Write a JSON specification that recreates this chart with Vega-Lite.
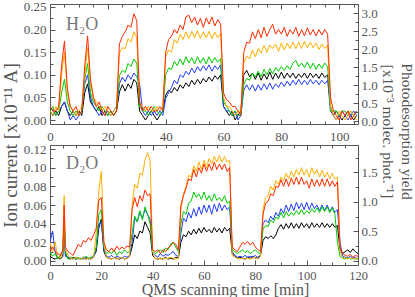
{
"$schema": "https://vega.github.io/schema/vega-lite/v6.json",
"background": "white",
"padding": {"left": 0, "top": 0, "right": 0, "bottom": 0},
"spacing": 21,
"bounds": "flush",
"config": {
  "view": {"stroke": "#555", "strokeWidth": 1},
  "font": "Liberation Serif",
  "axis": {"grid": false, "domain": false, "tickColor": "#555", "labelColor": "#555", "titleColor": "#555", "labelFont": "Liberation Serif", "titleFont": "Liberation Serif", "labelFontSize": 13, "titleFontSize": 16, "titleFontWeight": "normal", "tickWidth": 1}
},
"datasets": {
  "one": [{"a": 0}],
  "h2o": [
{"t":0,"k":0.02,"b":0.03,"g":0.02,"o":0.02,"r":0.03},
{"t":1,"k":0.01,"b":0.02,"g":0.03,"o":0.01,"r":0.02},
{"t":2,"k":0.02,"b":0.01,"g":0.01,"o":0.03,"r":0.02},
{"t":3,"k":0.01,"b":0.02,"g":0.02,"o":0.02,"r":0.03},
{"t":4,"k":0.03,"b":0.03,"g":0.06,"o":0.1,"r":0.12},
{"t":5,"k":0.04,"b":0.04,"g":0.09,"o":0.15,"r":0.175},
{"t":6,"k":0.02,"b":0.02,"g":0.04,"o":0.06,"r":0.07},
{"t":7,"k":0.01,"b":0.0,"g":0.02,"o":0.03,"r":0.03},
{"t":8,"k":0.02,"b":0.01,"g":0.01,"o":0.02,"r":0.02},
{"t":9,"k":0.01,"b":0.0,"g":0.02,"o":0.01,"r":0.03},
{"t":10,"k":0.02,"b":0.01,"g":0.01,"o":0.02,"r":0.01},
{"t":11,"k":0.01,"b":0.02,"g":0.02,"o":0.03,"r":0.02},
{"t":12,"k":0.06,"b":0.08,"g":0.09,"o":0.1,"r":0.12},
{"t":13,"k":0.08,"b":0.1,"g":0.125,"o":0.16,"r":0.186},
{"t":14,"k":0.04,"b":0.05,"g":0.06,"o":0.08,"r":0.09},
{"t":15,"k":0.03,"b":0.03,"g":0.04,"o":0.05,"r":0.05},
{"t":16,"k":0.02,"b":0.02,"g":0.03,"o":0.04,"r":0.03},
{"t":17,"k":0.03,"b":0.01,"g":0.02,"o":0.03,"r":0.04},
{"t":18,"k":0.01,"b":0.02,"g":0.03,"o":0.02,"r":0.02},
{"t":19,"k":0.02,"b":0.01,"g":0.02,"o":0.03,"r":0.01},
{"t":20,"k":0.01,"b":0.02,"g":0.01,"o":0.02,"r":0.03},
{"t":21,"k":0.02,"b":0.01,"g":0.02,"o":0.01,"r":0.02},
{"t":22,"k":0.01,"b":0.02,"g":0.01,"o":0.02,"r":0.01},
{"t":23,"k":0.02,"b":0.03,"g":0.02,"o":0.03,"r":0.02},
{"t":24,"k":0.062,"b":0.08,"g":0.098,"o":0.148,"r":0.168},
{"t":25,"k":0.078,"b":0.095,"g":0.11,"o":0.16,"r":0.185},
{"t":26,"k":0.064,"b":0.085,"g":0.105,"o":0.158,"r":0.195},
{"t":27,"k":0.08,"b":0.1,"g":0.125,"o":0.18,"r":0.21},
{"t":28,"k":0.07,"b":0.09,"g":0.118,"o":0.172,"r":0.205},
{"t":29,"k":0.09,"b":0.104,"g":0.135,"o":0.195,"r":0.235},
{"t":30,"k":0.082,"b":0.096,"g":0.126,"o":0.182,"r":0.22},
{"t":31,"k":0.02,"b":0.08,"g":0.03,"o":0.04,"r":0.04},
{"t":32,"k":0.01,"b":0.02,"g":0.02,"o":0.03,"r":0.02},
{"t":33,"k":0.0,"b":0.01,"g":0.02,"o":0.02,"r":0.03},
{"t":34,"k":0.01,"b":0.02,"g":0.01,"o":0.03,"r":0.02},
{"t":35,"k":0.02,"b":0.01,"g":0.02,"o":0.02,"r":0.03},
{"t":36,"k":0.01,"b":0.02,"g":0.03,"o":0.02,"r":0.02},
{"t":37,"k":0.0,"b":0.01,"g":0.02,"o":0.03,"r":0.02},
{"t":38,"k":0.01,"b":0.02,"g":0.01,"o":0.02,"r":0.03},
{"t":39,"k":0.02,"b":0.01,"g":0.02,"o":0.03,"r":0.02},
{"t":40,"k":0.055,"b":0.048,"g":0.1,"o":0.14,"r":0.15},
{"t":41,"k":0.066,"b":0.06,"g":0.115,"o":0.155,"r":0.178},
{"t":42,"k":0.06,"b":0.072,"g":0.112,"o":0.15,"r":0.185},
{"t":43,"k":0.072,"b":0.088,"g":0.13,"o":0.178,"r":0.2},
{"t":44,"k":0.064,"b":0.08,"g":0.12,"o":0.17,"r":0.192},
{"t":45,"k":0.078,"b":0.1,"g":0.135,"o":0.19,"r":0.21},
{"t":46,"k":0.07,"b":0.094,"g":0.122,"o":0.178,"r":0.2},
{"t":47,"k":0.082,"b":0.108,"g":0.14,"o":0.195,"r":0.228},
{"t":48,"k":0.074,"b":0.1,"g":0.126,"o":0.18,"r":0.232},
{"t":49,"k":0.088,"b":0.115,"g":0.138,"o":0.196,"r":0.215},
{"t":50,"k":0.078,"b":0.104,"g":0.124,"o":0.182,"r":0.228},
{"t":51,"k":0.09,"b":0.118,"g":0.14,"o":0.198,"r":0.21},
{"t":52,"k":0.08,"b":0.108,"g":0.126,"o":0.18,"r":0.225},
{"t":53,"k":0.092,"b":0.12,"g":0.138,"o":0.195,"r":0.205},
{"t":54,"k":0.084,"b":0.11,"g":0.124,"o":0.182,"r":0.226},
{"t":55,"k":0.095,"b":0.122,"g":0.14,"o":0.196,"r":0.212},
{"t":56,"k":0.086,"b":0.108,"g":0.126,"o":0.18,"r":0.228},
{"t":57,"k":0.098,"b":0.12,"g":0.138,"o":0.194,"r":0.208},
{"t":58,"k":0.09,"b":0.112,"g":0.128,"o":0.182,"r":0.222},
{"t":59,"k":0.1,"b":0.122,"g":0.136,"o":0.192,"r":0.212},
{"t":60,"k":0.03,"b":0.03,"g":0.04,"o":0.05,"r":0.06},
{"t":61,"k":0.02,"b":0.02,"g":0.03,"o":0.03,"r":0.045},
{"t":62,"k":0.01,"b":0.02,"g":0.02,"o":0.03,"r":0.04},
{"t":63,"k":0.02,"b":0.01,"g":0.01,"o":0.02,"r":0.03},
{"t":64,"k":0.0,"b":0.02,"g":0.02,"o":0.01,"r":0.03},
{"t":65,"k":0.01,"b":0.0,"g":0.01,"o":0.02,"r":0.02},
{"t":66,"k":0.02,"b":0.01,"g":0.01,"o":0.02,"r":0.01},
{"t":67,"k":0.1,"b":0.066,"g":0.078,"o":0.125,"r":0.15},
{"t":68,"k":0.11,"b":0.078,"g":0.092,"o":0.142,"r":0.172},
{"t":69,"k":0.096,"b":0.066,"g":0.088,"o":0.135,"r":0.17},
{"t":70,"k":0.104,"b":0.078,"g":0.104,"o":0.155,"r":0.195},
{"t":71,"k":0.09,"b":0.064,"g":0.095,"o":0.14,"r":0.18},
{"t":72,"k":0.104,"b":0.078,"g":0.108,"o":0.158,"r":0.2},
{"t":73,"k":0.088,"b":0.066,"g":0.096,"o":0.148,"r":0.182},
{"t":74,"k":0.102,"b":0.08,"g":0.112,"o":0.165,"r":0.205},
{"t":75,"k":0.09,"b":0.068,"g":0.1,"o":0.15,"r":0.185},
{"t":76,"k":0.106,"b":0.082,"g":0.114,"o":0.166,"r":0.2},
{"t":77,"k":0.09,"b":0.068,"g":0.102,"o":0.158,"r":0.212},
{"t":78,"k":0.104,"b":0.08,"g":0.116,"o":0.168,"r":0.19},
{"t":79,"k":0.092,"b":0.072,"g":0.108,"o":0.152,"r":0.2},
{"t":80,"k":0.106,"b":0.084,"g":0.118,"o":0.17,"r":0.19},
{"t":81,"k":0.092,"b":0.074,"g":0.11,"o":0.155,"r":0.205},
{"t":82,"k":0.104,"b":0.086,"g":0.12,"o":0.17,"r":0.185},
{"t":83,"k":0.094,"b":0.076,"g":0.112,"o":0.158,"r":0.2},
{"t":84,"k":0.104,"b":0.088,"g":0.126,"o":0.172,"r":0.19},
{"t":85,"k":0.092,"b":0.078,"g":0.132,"o":0.158,"r":0.205},
{"t":86,"k":0.102,"b":0.09,"g":0.118,"o":0.172,"r":0.185},
{"t":87,"k":0.094,"b":0.078,"g":0.126,"o":0.158,"r":0.2},
{"t":88,"k":0.104,"b":0.088,"g":0.116,"o":0.174,"r":0.186},
{"t":89,"k":0.092,"b":0.078,"g":0.128,"o":0.16,"r":0.204},
{"t":90,"k":0.104,"b":0.09,"g":0.114,"o":0.172,"r":0.188},
{"t":91,"k":0.094,"b":0.08,"g":0.126,"o":0.16,"r":0.2},
{"t":92,"k":0.102,"b":0.088,"g":0.112,"o":0.17,"r":0.186},
{"t":93,"k":0.092,"b":0.078,"g":0.124,"o":0.156,"r":0.2},
{"t":94,"k":0.104,"b":0.088,"g":0.114,"o":0.168,"r":0.188},
{"t":95,"k":0.094,"b":0.08,"g":0.126,"o":0.158,"r":0.2},
{"t":96,"k":0.1,"b":0.088,"g":0.118,"o":0.166,"r":0.19},
{"t":97,"k":0.03,"b":0.02,"g":0.02,"o":0.03,"r":0.05},
{"t":98,"k":0.01,"b":0.01,"g":0.02,"o":0.01,"r":0.02},
{"t":99,"k":0.02,"b":0.0,"g":0.02,"o":0.0,"r":0.01},
{"t":100,"k":0.01,"b":0.01,"g":0.01,"o":0.02,"r":0.0},
{"t":101,"k":0.0,"b":0.02,"g":0.02,"o":0.01,"r":0.02},
{"t":102,"k":0.01,"b":0.01,"g":0.02,"o":0.0,"r":0.01},
{"t":103,"k":0.02,"b":0.0,"g":0.01,"o":0.01,"r":0.02},
{"t":104,"k":0.01,"b":0.01,"g":0.02,"o":0.02,"r":0.0},
{"t":105,"k":0.0,"b":0.02,"g":0.01,"o":0.01,"r":0.01},
{"t":106,"k":0.01,"b":0.01,"g":0.02,"o":0.0,"r":0.02}
  ],
  "d2o": [
{"t":0,"k":0.005,"b":0.02,"g":0.01,"o":0.02,"r":0.01},
{"t":1,"k":0.003,"b":0.032,"g":0.005,"o":0.01,"r":0.015},
{"t":2,"k":0.002,"b":0.01,"g":0.008,"o":0.02,"r":0.01},
{"t":3,"k":0.004,"b":0.003,"g":0.002,"o":0.005,"r":0.008},
{"t":4,"k":0.002,"b":0.005,"g":0.006,"o":0.003,"r":0.006},
{"t":5,"k":0.005,"b":0.008,"g":0.01,"o":0.01,"r":0.012},
{"t":5.5,"k":0.048,"b":0.03,"g":0.045,"o":0.07,"r":0.06},
{"t":6,"k":0.008,"b":0.005,"g":0.01,"o":0.012,"r":0.015},
{"t":7,"k":0.003,"b":0.004,"g":0.002,"o":0.006,"r":0.01},
{"t":8,"k":0.002,"b":0.003,"g":0.004,"o":0.003,"r":0.008},
{"t":9,"k":0.004,"b":0.002,"g":0.003,"o":0.002,"r":0.006},
{"t":10,"k":0.002,"b":0.004,"g":0.002,"o":0.004,"r":0.012},
{"t":11,"k":0.003,"b":0.002,"g":0.004,"o":0.003,"r":0.018},
{"t":12,"k":0.002,"b":0.003,"g":0.002,"o":0.002,"r":0.015},
{"t":13,"k":0.004,"b":0.002,"g":0.003,"o":0.004,"r":0.022},
{"t":14,"k":0.002,"b":0.004,"g":0.005,"o":0.002,"r":0.02},
{"t":15,"k":0.003,"b":0.002,"g":0.003,"o":0.003,"r":0.025},
{"t":16,"k":0.002,"b":0.003,"g":0.004,"o":0.002,"r":0.022},
{"t":17,"k":0.005,"b":0.004,"g":0.006,"o":0.004,"r":0.028},
{"t":18,"k":0.01,"b":0.012,"g":0.015,"o":0.03,"r":0.035},
{"t":19,"k":0.035,"b":0.04,"g":0.05,"o":0.075,"r":0.065},
{"t":20,"k":0.045,"b":0.042,"g":0.055,"o":0.096,"r":0.068},
{"t":21,"k":0.01,"b":0.012,"g":0.015,"o":0.02,"r":0.02},
{"t":22,"k":0.004,"b":0.005,"g":0.008,"o":0.004,"r":0.012},
{"t":23,"k":0.003,"b":0.004,"g":0.01,"o":0.003,"r":0.01},
{"t":24,"k":0.002,"b":0.006,"g":0.008,"o":0.002,"r":0.014},
{"t":25,"k":0.004,"b":0.003,"g":0.012,"o":0.004,"r":0.01},
{"t":26,"k":0.003,"b":0.005,"g":0.006,"o":0.002,"r":0.016},
{"t":27,"k":0.002,"b":0.004,"g":0.01,"o":0.003,"r":0.012},
{"t":28,"k":0.004,"b":0.003,"g":0.008,"o":0.004,"r":0.015},
{"t":29,"k":0.002,"b":0.005,"g":0.012,"o":0.002,"r":0.013},
{"t":30,"k":0.003,"b":0.004,"g":0.009,"o":0.003,"r":0.016},
{"t":31,"k":0.005,"b":0.006,"g":0.01,"o":0.005,"r":0.015},
{"t":32,"k":0.015,"b":0.02,"g":0.03,"o":0.06,"r":0.055},
{"t":33,"k":0.028,"b":0.046,"g":0.048,"o":0.082,"r":0.068},
{"t":34,"k":0.024,"b":0.042,"g":0.042,"o":0.078,"r":0.058},
{"t":35,"k":0.032,"b":0.052,"g":0.054,"o":0.094,"r":0.07},
{"t":36,"k":0.03,"b":0.046,"g":0.044,"o":0.092,"r":0.064},
{"t":37,"k":0.042,"b":0.055,"g":0.058,"o":0.108,"r":0.076},
{"t":38,"k":0.036,"b":0.05,"g":0.05,"o":0.116,"r":0.07},
{"t":39,"k":0.03,"b":0.045,"g":0.04,"o":0.108,"r":0.072},
{"t":40,"k":0.006,"b":0.008,"g":0.01,"o":0.01,"r":0.012},
{"t":41,"k":0.003,"b":0.006,"g":0.008,"o":0.002,"r":0.01},
{"t":42,"k":0.002,"b":0.004,"g":0.01,"o":0.003,"r":0.012},
{"t":43,"k":0.003,"b":0.008,"g":0.012,"o":0.002,"r":0.008},
{"t":44,"k":0.002,"b":0.005,"g":0.009,"o":0.003,"r":0.012},
{"t":45,"k":0.004,"b":0.007,"g":0.014,"o":0.002,"r":0.01},
{"t":46,"k":0.002,"b":0.006,"g":0.012,"o":0.003,"r":0.014},
{"t":47,"k":0.003,"b":0.008,"g":0.018,"o":0.004,"r":0.016},
{"t":48,"k":0.002,"b":0.01,"g":0.02,"o":0.003,"r":0.02},
{"t":49,"k":0.004,"b":0.006,"g":0.015,"o":0.002,"r":0.018},
{"t":50,"k":0.003,"b":0.005,"g":0.01,"o":0.003,"r":0.012},
{"t":51,"k":0.02,"b":0.03,"g":0.04,"o":0.055,"r":0.06},
{"t":52,"k":0.028,"b":0.046,"g":0.053,"o":0.072,"r":0.07},
{"t":53,"k":0.026,"b":0.042,"g":0.05,"o":0.08,"r":0.078},
{"t":54,"k":0.032,"b":0.052,"g":0.062,"o":0.092,"r":0.088},
{"t":55,"k":0.028,"b":0.046,"g":0.064,"o":0.09,"r":0.086},
{"t":56,"k":0.034,"b":0.056,"g":0.074,"o":0.102,"r":0.098},
{"t":57,"k":0.029,"b":0.048,"g":0.068,"o":0.096,"r":0.09},
{"t":58,"k":0.035,"b":0.058,"g":0.072,"o":0.106,"r":0.1},
{"t":59,"k":0.03,"b":0.05,"g":0.066,"o":0.098,"r":0.094},
{"t":60,"k":0.036,"b":0.06,"g":0.074,"o":0.108,"r":0.104},
{"t":61,"k":0.031,"b":0.052,"g":0.065,"o":0.1,"r":0.096},
{"t":62,"k":0.034,"b":0.06,"g":0.07,"o":0.11,"r":0.104},
{"t":63,"k":0.03,"b":0.05,"g":0.064,"o":0.104,"r":0.097},
{"t":64,"k":0.036,"b":0.061,"g":0.072,"o":0.112,"r":0.106},
{"t":65,"k":0.031,"b":0.053,"g":0.065,"o":0.106,"r":0.098},
{"t":66,"k":0.035,"b":0.062,"g":0.068,"o":0.113,"r":0.104},
{"t":67,"k":0.03,"b":0.054,"g":0.064,"o":0.106,"r":0.098},
{"t":68,"k":0.036,"b":0.06,"g":0.07,"o":0.112,"r":0.104},
{"t":69,"k":0.032,"b":0.055,"g":0.062,"o":0.106,"r":0.096},
{"t":70,"k":0.035,"b":0.058,"g":0.064,"o":0.108,"r":0.1},
{"t":71,"k":0.008,"b":0.01,"g":0.012,"o":0.006,"r":0.015},
{"t":72,"k":0.005,"b":0.006,"g":0.01,"o":0.004,"r":0.012},
{"t":73,"k":0.003,"b":0.004,"g":0.008,"o":0.003,"r":0.01},
{"t":74,"k":0.004,"b":0.005,"g":0.01,"o":0.002,"r":0.015},
{"t":75,"k":0.003,"b":0.004,"g":0.012,"o":0.003,"r":0.02},
{"t":76,"k":0.002,"b":0.006,"g":0.009,"o":0.002,"r":0.018},
{"t":77,"k":0.004,"b":0.004,"g":0.011,"o":0.003,"r":0.021},
{"t":78,"k":0.003,"b":0.005,"g":0.008,"o":0.002,"r":0.017},
{"t":79,"k":0.005,"b":0.004,"g":0.01,"o":0.003,"r":0.02},
{"t":80,"k":0.003,"b":0.006,"g":0.012,"o":0.004,"r":0.015},
{"t":81,"k":0.004,"b":0.003,"g":0.009,"o":0.002,"r":0.012},
{"t":82,"k":0.006,"b":0.005,"g":0.008,"o":0.005,"r":0.01},
{"t":83,"k":0.022,"b":0.04,"g":0.034,"o":0.055,"r":0.05},
{"t":84,"k":0.026,"b":0.044,"g":0.038,"o":0.068,"r":0.062},
{"t":85,"k":0.024,"b":0.041,"g":0.037,"o":0.07,"r":0.064},
{"t":86,"k":0.027,"b":0.048,"g":0.044,"o":0.08,"r":0.072},
{"t":87,"k":0.024,"b":0.044,"g":0.041,"o":0.076,"r":0.07},
{"t":88,"k":0.028,"b":0.052,"g":0.047,"o":0.086,"r":0.08},
{"t":89,"k":0.035,"b":0.048,"g":0.045,"o":0.082,"r":0.079},
{"t":90,"k":0.039,"b":0.056,"g":0.052,"o":0.09,"r":0.087},
{"t":91,"k":0.034,"b":0.051,"g":0.046,"o":0.086,"r":0.08},
{"t":92,"k":0.04,"b":0.06,"g":0.053,"o":0.094,"r":0.088},
{"t":93,"k":0.035,"b":0.053,"g":0.048,"o":0.088,"r":0.08},
{"t":94,"k":0.041,"b":0.061,"g":0.052,"o":0.096,"r":0.089},
{"t":95,"k":0.035,"b":0.054,"g":0.049,"o":0.09,"r":0.082},
{"t":96,"k":0.04,"b":0.063,"g":0.054,"o":0.098,"r":0.09},
{"t":97,"k":0.035,"b":0.056,"g":0.05,"o":0.092,"r":0.082},
{"t":98,"k":0.041,"b":0.062,"g":0.055,"o":0.1,"r":0.09},
{"t":99,"k":0.036,"b":0.055,"g":0.05,"o":0.092,"r":0.082},
{"t":100,"k":0.04,"b":0.063,"g":0.054,"o":0.098,"r":0.086},
{"t":101,"k":0.035,"b":0.055,"g":0.051,"o":0.09,"r":0.078},
{"t":102,"k":0.041,"b":0.062,"g":0.056,"o":0.1,"r":0.088},
{"t":103,"k":0.036,"b":0.056,"g":0.052,"o":0.093,"r":0.08},
{"t":104,"k":0.04,"b":0.06,"g":0.057,"o":0.098,"r":0.087},
{"t":105,"k":0.036,"b":0.054,"g":0.052,"o":0.09,"r":0.08},
{"t":106,"k":0.041,"b":0.06,"g":0.058,"o":0.097,"r":0.088},
{"t":107,"k":0.036,"b":0.054,"g":0.053,"o":0.09,"r":0.08},
{"t":108,"k":0.04,"b":0.06,"g":0.058,"o":0.095,"r":0.088},
{"t":109,"k":0.036,"b":0.053,"g":0.052,"o":0.088,"r":0.08},
{"t":110,"k":0.04,"b":0.058,"g":0.057,"o":0.094,"r":0.086},
{"t":111,"k":0.036,"b":0.052,"g":0.05,"o":0.088,"r":0.08},
{"t":112,"k":0.038,"b":0.055,"g":0.02,"o":0.09,"r":0.085},
{"t":113,"k":0.012,"b":0.02,"g":0.005,"o":0.01,"r":0.015},
{"t":114,"k":0.008,"b":0.005,"g":0.003,"o":0.004,"r":0.008},
{"t":115,"k":0.01,"b":0.004,"g":0.002,"o":0.003,"r":0.006},
{"t":116,"k":0.012,"b":0.003,"g":0.004,"o":0.002,"r":0.005},
{"t":117,"k":0.009,"b":0.005,"g":0.002,"o":0.003,"r":0.007},
{"t":118,"k":0.013,"b":0.003,"g":0.003,"o":0.002,"r":0.004},
{"t":119,"k":0.01,"b":0.004,"g":0.002,"o":0.003,"r":0.006},
{"t":120,"k":0.008,"b":0.002,"g":0.003,"o":0.002,"r":0.005}
  ]
},
"vconcat": [
{
  "width": 308, "height": 120,
  "resolve": {"scale": {"y": "independent"}, "axis": {"x": "independent", "y": "independent"}},
  "layer": [
    {
      "data": {"name": "h2o"},
      "transform": [{"fold": ["k","b","g","o","r"], "as": ["s","v"]}],
      "mark": {"type": "line", "strokeWidth": 1, "clip": true},
      "encoding": {
        "x": {"field": "t", "type": "quantitative", "scale": {"domain": [0, 106.5], "nice": false, "zero": false},
              "axis": {"orient": "bottom", "values": [0,20,40,60,80,100], "title": null, "tickSize": -5, "labelPadding": 11, "labelFlush": false}},
        "y": {"field": "v", "type": "quantitative", "scale": {"domain": [-0.0088, 0.2566], "nice": false, "zero": false},
              "axis": {"orient": "left", "values": [0,0.05,0.1,0.15,0.2,0.25], "format": ".2f", "tickSize": -5, "labelPadding": 9,
                       "title": "Ion current [x10⁻¹¹ A]", "titleFontSize": 19, "titleY": 141, "titleX": -33.5, "titleBaseline": "alphabetic", "titleAngle": -90}},
        "color": {"field": "s", "type": "nominal", "legend": null,
                  "scale": {"domain": ["k","b","g","o","r"], "range": ["#000000","#1f3cff","#00cc00","#ffb000","#ff2a00"]}}
      }
    },
    {
      "data": {"values": [{"x": 5.5, "y": 0.2, "l": "H₂O"}]},
      "mark": {"type": "text", "align": "left", "baseline": "alphabetic", "fontSize": 18, "color": "#777", "font": "Liberation Serif"},
      "encoding": {
        "x": {"field": "x", "type": "quantitative", "scale": {"domain": [0, 106.5], "nice": false, "zero": false}, "axis": null},
        "y": {"field": "y", "type": "quantitative", "scale": {"domain": [-0.0088, 0.2566], "nice": false, "zero": false}, "axis": null},
        "text": {"field": "l"}
      }
    },
    {
      "data": {"name": "one"},
      "mark": {"type": "point", "opacity": 0, "size": 1},
      "encoding": {
        "x": {"field": "a", "type": "quantitative", "scale": {"domain": [0, 106.5], "nice": false, "zero": false},
              "axis": {"orient": "bottom", "values": [5,10,15,25,30,35,45,50,55,65,70,75,85,90,95,105], "labels": false, "tickSize": -3, "title": null}},
        "y": {"field": "a", "type": "quantitative", "scale": {"domain": [-0.0088, 0.2566], "nice": false, "zero": false},
              "axis": {"orient": "left", "values": [0.025,0.075,0.125,0.175,0.225], "labels": false, "tickSize": -3, "title": null}}
      }
    },
    {
      "data": {"name": "one"},
      "mark": {"type": "point", "opacity": 0, "size": 1},
      "encoding": {
        "x": {"field": "a", "type": "quantitative", "scale": {"domain": [0, 106.5], "nice": false, "zero": false},
              "axis": {"orient": "top", "values": [0,20,40,60,80,100], "labels": false, "tickSize": -5, "title": null}},
        "y": {"field": "a", "type": "quantitative", "scale": {"domain": [-0.083, 3.25], "nice": false, "zero": false},
              "axis": {"orient": "right", "values": [0,0.5,1,1.5,2,2.5,3], "format": ".1f", "tickSize": -5, "labelPadding": 8,
                       "title": ["Photodesorption yield", "[x10⁻³ molec. phot.⁻¹]"], "titleFontSize": 15.5, "titleY": 127, "titleX": 43, "titleBaseline": "alphabetic", "titleAngle": 90, "titleLineHeight": 19}}
      }
    },
    {
      "data": {"name": "one"},
      "mark": {"type": "point", "opacity": 0, "size": 1},
      "encoding": {
        "x": {"field": "a", "type": "quantitative", "scale": {"domain": [0, 106.5], "nice": false, "zero": false},
              "axis": {"orient": "top", "values": [5,10,15,25,30,35,45,50,55,65,70,75,85,90,95,105], "labels": false, "tickSize": -3, "title": null}},
        "y": {"field": "a", "type": "quantitative", "scale": {"domain": [-0.083, 3.25], "nice": false, "zero": false},
              "axis": {"orient": "right", "values": [0.25,0.75,1.25,1.75,2.25,2.75,3.25], "labels": false, "tickSize": -3, "title": null}}
      }
    }
  ]
},
{
  "width": 308, "height": 120,
  "resolve": {"scale": {"y": "independent"}, "axis": {"x": "independent", "y": "independent"}},
  "layer": [
    {
      "data": {"name": "d2o"},
      "transform": [{"fold": ["k","b","g","o","r"], "as": ["s","v"]}],
      "mark": {"type": "line", "strokeWidth": 1, "clip": true},
      "encoding": {
        "x": {"field": "t", "type": "quantitative", "scale": {"domain": [0, 120], "nice": false, "zero": false},
              "axis": {"orient": "bottom", "values": [0,20,40,60,80,100,120], "tickSize": -5, "labelPadding": 9, "labelFontSize": 12.5, "labelFlush": false,
                       "title": "QMS scanning time [min]", "titleX": 175, "titleY": 29.5, "titleBaseline": "alphabetic"}},
        "y": {"field": "v", "type": "quantitative", "scale": {"domain": [-0.0043, 0.1243], "nice": false, "zero": false},
              "axis": {"orient": "left", "values": [0,0.02,0.04,0.06,0.08,0.1,0.12], "format": ".2f", "tickSize": -5, "labelPadding": 9, "title": null}},
        "color": {"field": "s", "type": "nominal", "legend": null,
                  "scale": {"domain": ["k","b","g","o","r"], "range": ["#000000","#1f3cff","#00cc00","#ffb000","#ff2a00"]}}
      }
    },
    {
      "data": {"values": [{"x": 6.2, "y": 0.0986, "l": "D₂O"}]},
      "mark": {"type": "text", "align": "left", "baseline": "alphabetic", "fontSize": 18, "color": "#777", "font": "Liberation Serif"},
      "encoding": {
        "x": {"field": "x", "type": "quantitative", "scale": {"domain": [0, 120], "nice": false, "zero": false}, "axis": null},
        "y": {"field": "y", "type": "quantitative", "scale": {"domain": [-0.0043, 0.1243], "nice": false, "zero": false}, "axis": null},
        "text": {"field": "l"}
      }
    },
    {
      "data": {"name": "one"},
      "mark": {"type": "point", "opacity": 0, "size": 1},
      "encoding": {
        "x": {"field": "a", "type": "quantitative", "scale": {"domain": [0, 120], "nice": false, "zero": false},
              "axis": {"orient": "bottom", "values": [5,10,15,25,30,35,45,50,55,65,70,75,85,90,95,105,110,115], "labels": false, "tickSize": -3, "title": null}},
        "y": {"field": "a", "type": "quantitative", "scale": {"domain": [-0.0043, 0.1243], "nice": false, "zero": false},
              "axis": {"orient": "left", "values": [0.01,0.03,0.05,0.07,0.09,0.11], "labels": false, "tickSize": -3, "title": null}}
      }
    },
    {
      "data": {"name": "one"},
      "mark": {"type": "point", "opacity": 0, "size": 1},
      "encoding": {
        "x": {"field": "a", "type": "quantitative", "scale": {"domain": [0, 120], "nice": false, "zero": false},
              "axis": {"orient": "top", "values": [0,20,40,60,80,100,120], "labels": false, "tickSize": -5, "title": null}},
        "y": {"field": "a", "type": "quantitative", "scale": {"domain": [-0.068, 1.966], "nice": false, "zero": false},
              "axis": {"orient": "right", "values": [0,0.5,1,1.5], "format": ".1f", "tickSize": -5, "labelPadding": 8, "title": null}}
      }
    },
    {
      "data": {"name": "one"},
      "mark": {"type": "point", "opacity": 0, "size": 1},
      "encoding": {
        "x": {"field": "a", "type": "quantitative", "scale": {"domain": [0, 120], "nice": false, "zero": false},
              "axis": {"orient": "top", "values": [5,10,15,25,30,35,45,50,55,65,70,75,85,90,95,105,110,115], "labels": false, "tickSize": -3, "title": null}},
        "y": {"field": "a", "type": "quantitative", "scale": {"domain": [-0.068, 1.966], "nice": false, "zero": false},
              "axis": {"orient": "right", "values": [0.25,0.75,1.25,1.75], "labels": false, "tickSize": -3, "title": null}}
      }
    }
  ]
}
]
}
